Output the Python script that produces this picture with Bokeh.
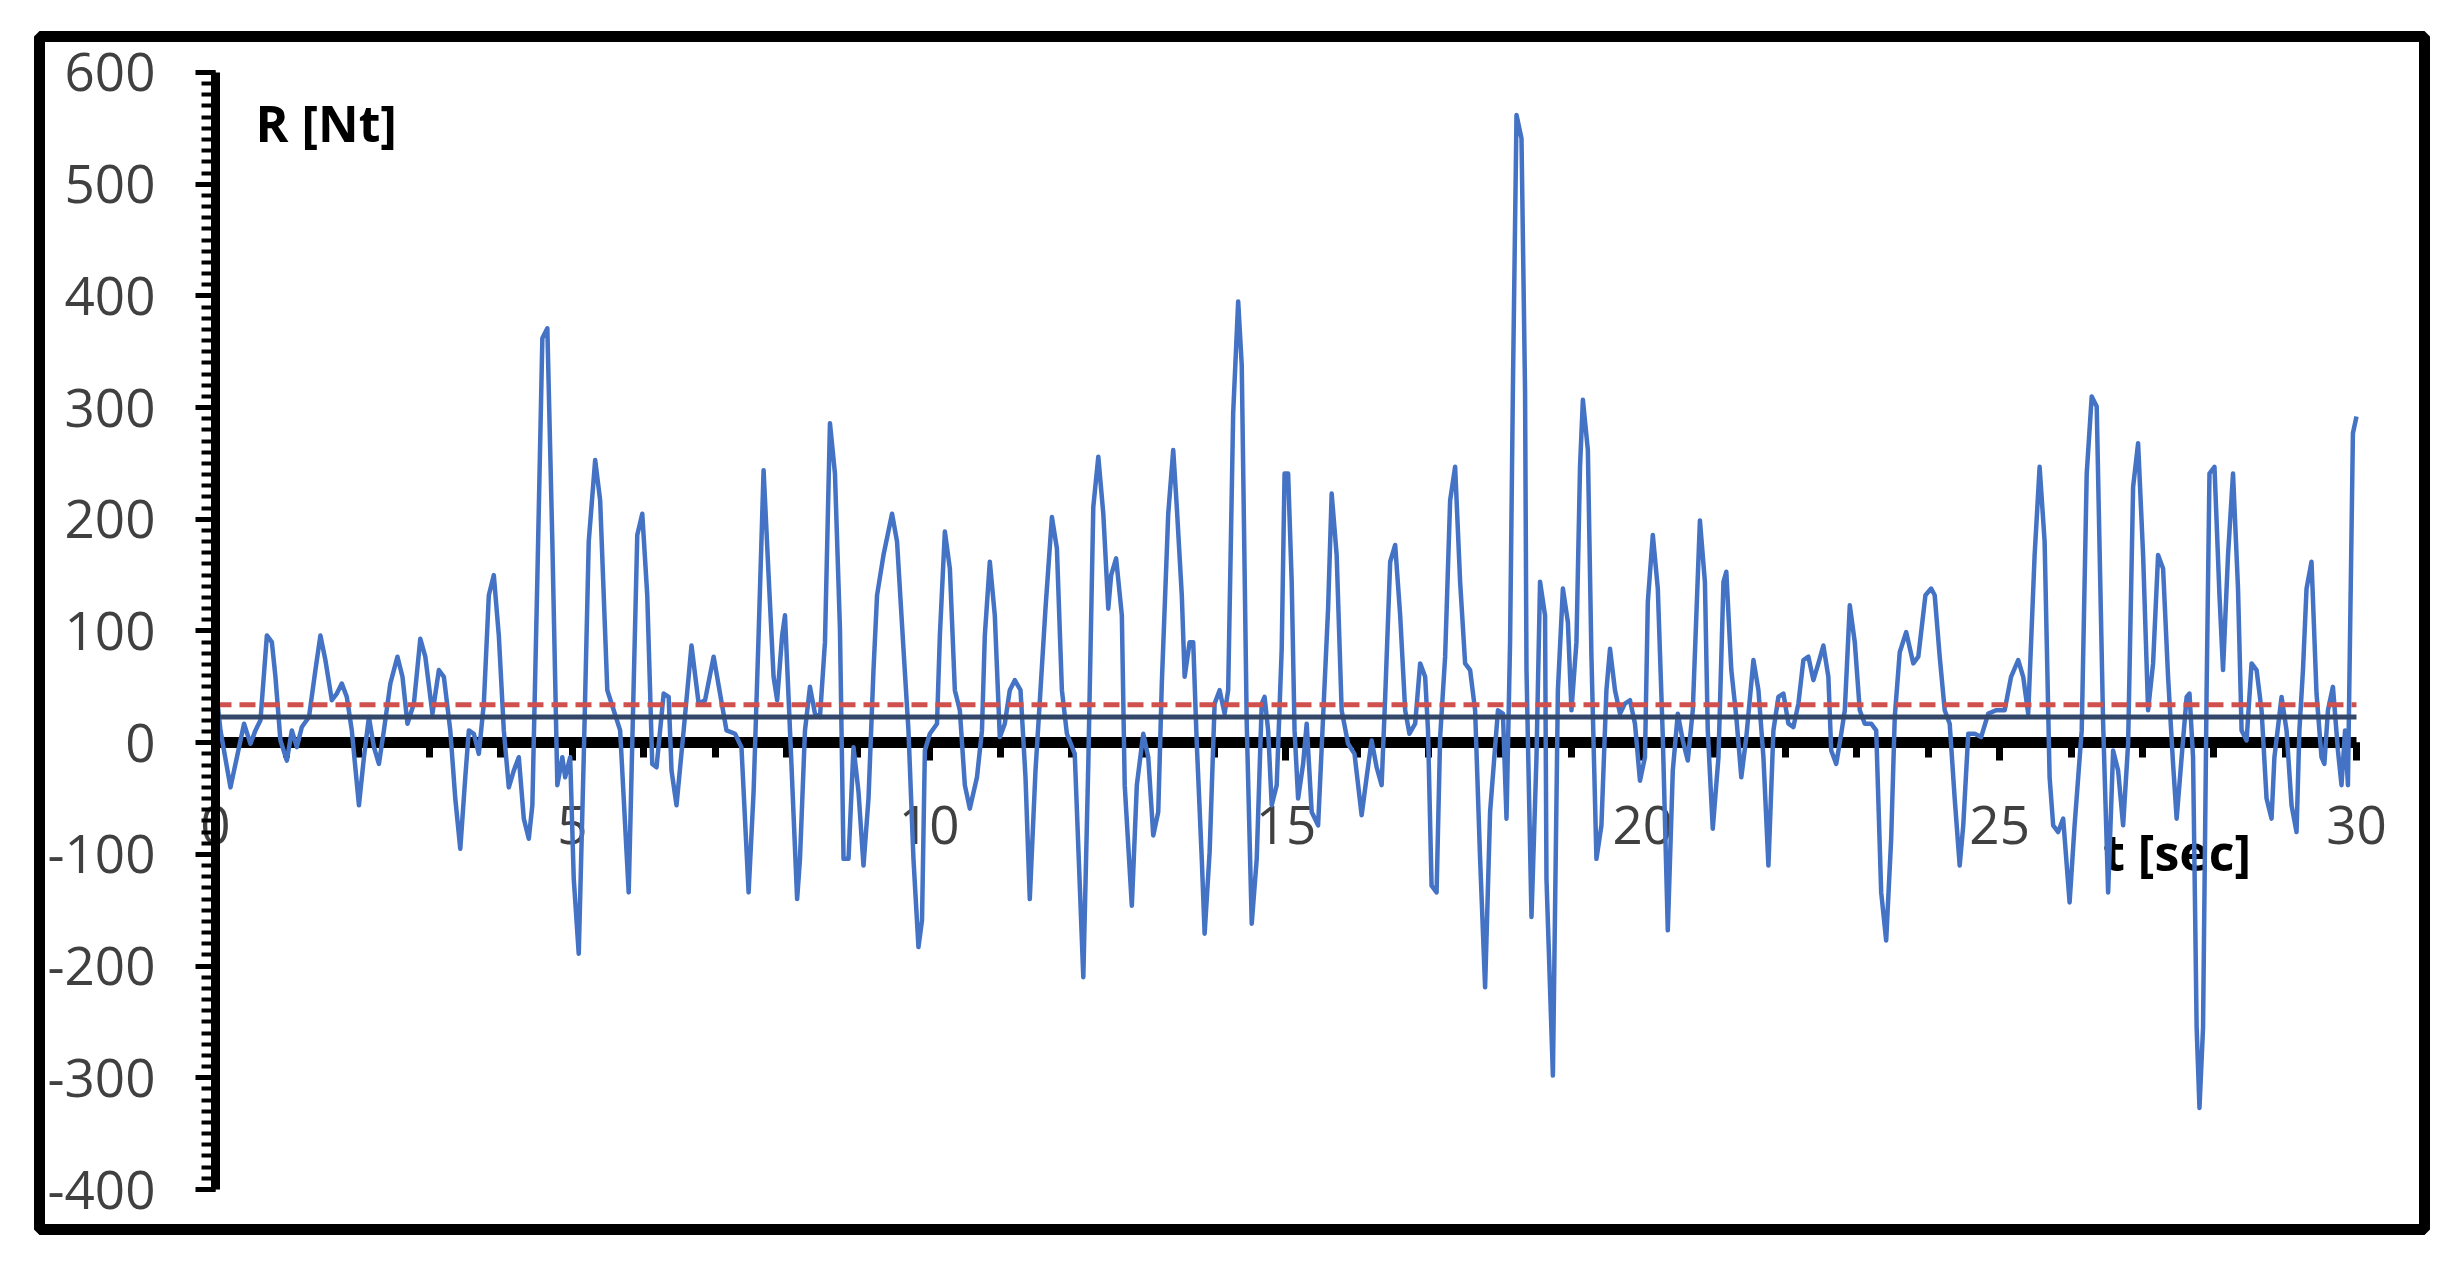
from bokeh.plotting import figure
from bokeh.models import SingleIntervalTicker, Label, Range1d, PrintfTickFormatter
from bokeh.embed import file_html
from bokeh.resources import INLINE

# ---- data ----
t_sec = [
    0.00, 0.07, 0.21, 0.30, 0.40, 0.49, 0.56, 0.63, 0.72, 0.79, 0.84, 0.91, 1.00, 1.07, 1.14, 1.21,
    1.31, 1.40, 1.47, 1.54, 1.63, 1.70, 1.77, 1.84, 1.91, 2.01, 2.08, 2.15, 2.22, 2.29, 2.36, 2.45,
    2.55, 2.62, 2.69, 2.78, 2.87, 2.94, 3.04, 3.13, 3.20, 3.29, 3.36, 3.43, 3.50, 3.55, 3.62, 3.69,
    3.76, 3.83, 3.90, 3.97, 4.04, 4.11, 4.18, 4.25, 4.32, 4.39, 4.44, 4.51, 4.58, 4.65, 4.72, 4.79,
    4.86, 4.90, 4.97, 5.02, 5.09, 5.16, 5.23, 5.32, 5.39, 5.49, 5.58, 5.67, 5.75, 5.79, 5.91, 5.98,
    6.05, 6.12, 6.18, 6.28, 6.35, 6.39, 6.46, 6.56, 6.67, 6.77, 6.86, 6.98, 7.07, 7.16, 7.28, 7.37,
    7.47, 7.54, 7.61, 7.68, 7.75, 7.82, 7.87, 7.94, 7.98, 8.05, 8.15, 8.19, 8.26, 8.33, 8.40, 8.47,
    8.54, 8.61, 8.68, 8.75, 8.80, 8.87, 8.94, 9.01, 9.08, 9.15, 9.22, 9.27, 9.36, 9.48, 9.55, 9.64,
    9.71, 9.78, 9.85, 9.90, 9.94, 10.01, 10.11, 10.15, 10.22, 10.29, 10.36, 10.43, 10.50, 10.57, 10.67, 10.74,
    10.78, 10.85, 10.92, 10.99, 11.06, 11.13, 11.20, 11.28, 11.35, 11.41, 11.49, 11.56, 11.63, 11.72, 11.79, 11.86,
    11.93, 12.04, 12.16, 12.23, 12.30, 12.37, 12.44, 12.51, 12.55, 12.62, 12.70, 12.74, 12.84, 12.91, 13.00, 13.07,
    13.14, 13.21, 13.26, 13.35, 13.42, 13.47, 13.54, 13.58, 13.65, 13.70, 13.75, 13.82, 13.86, 13.93, 14.00, 14.07,
    14.14, 14.19, 14.26, 14.33, 14.38, 14.45, 14.52, 14.59, 14.66, 14.70, 14.75, 14.80, 14.87, 14.94, 14.98, 15.03,
    15.08, 15.12, 15.17, 15.24, 15.29, 15.36, 15.45, 15.52, 15.59, 15.64, 15.71, 15.78, 15.87, 15.96, 16.06, 16.13,
    16.20, 16.27, 16.34, 16.39, 16.46, 16.53, 16.60, 16.67, 16.73, 16.81, 16.88, 16.95, 16.99, 17.04, 17.11, 17.16,
    17.23, 17.30, 17.37, 17.44, 17.51, 17.58, 17.65, 17.72, 17.79, 17.86, 17.97, 18.04, 18.09, 18.14, 18.18, 18.23,
    18.30, 18.35, 18.37, 18.44, 18.51, 18.56, 18.63, 18.65, 18.74, 18.81, 18.88, 18.95, 19.00, 19.07, 19.12, 19.16,
    19.23, 19.28, 19.35, 19.42, 19.49, 19.54, 19.61, 19.68, 19.75, 19.82, 19.89, 19.96, 20.03, 20.07, 20.14, 20.21,
    20.28, 20.35, 20.42, 20.49, 20.56, 20.63, 20.70, 20.80, 20.87, 20.91, 20.98, 21.06, 21.13, 21.17, 21.24, 21.31,
    21.38, 21.45, 21.55, 21.62, 21.69, 21.76, 21.83, 21.90, 21.97, 22.04, 22.11, 22.18, 22.25, 22.32, 22.39, 22.46,
    22.53, 22.60, 22.64, 22.71, 22.78, 22.83, 22.90, 22.97, 23.04, 23.11, 23.20, 23.27, 23.34, 23.41, 23.48, 23.53,
    23.60, 23.69, 23.79, 23.86, 23.96, 24.04, 24.09, 24.16, 24.23, 24.30, 24.37, 24.44, 24.49, 24.56, 24.65, 24.74,
    24.84, 24.95, 25.07, 25.16, 25.26, 25.33, 25.40, 25.49, 25.56, 25.63, 25.70, 25.75, 25.82, 25.89, 25.98, 26.05,
    26.15, 26.22, 26.29, 26.36, 26.40, 26.45, 26.52, 26.59, 26.66, 26.73, 26.80, 26.87, 26.94, 27.01, 27.08, 27.15,
    27.22, 27.29, 27.36, 27.43, 27.48, 27.55, 27.62, 27.66, 27.71, 27.76, 27.80, 27.85, 27.90, 27.94, 28.01, 28.08,
    28.13, 28.20, 28.27, 28.34, 28.39, 28.46, 28.53, 28.60, 28.67, 28.74, 28.81, 28.85, 28.95, 29.02, 29.09, 29.16,
    29.20, 29.25, 29.30, 29.37, 29.44, 29.51, 29.55, 29.60, 29.67, 29.74, 29.79, 29.84, 29.88, 29.95, 30.00,
]
r_nt = [
    53, 11, -40, -13, 17, -1, 11, 20, 96, 90, 59, 2, -16, 11, -4, 14,
    23, 65, 96, 74, 38, 44, 53, 41, 11, -56, -13, 23, -4, -19, 11, 53,
    77, 59, 17, 35, 93, 77, 26, 65, 59, 11, -50, -95, -31, 11, 8, -10,
    35, 132, 150, 96, 11, -40, -25, -13, -68, -86, -56, 147, 362, 371, 180, -38,
    -13, -31, -13, -122, -189, -13, 180, 253, 217, 47, 29, 11, -86, -134, 186, 205,
    132, -19, -22, 44, 41, -25, -56, 11, 87, 35, 38, 77, 44, 11, 8, -4,
    -134, -44, 96, 244, 150, 59, 38, 96, 114, 11, -140, -104, 11, 50, 26, 23,
    90, 286, 241, 102, -104, -104, -4, -44, -110, -50, 65, 132, 168, 205, 180, 84,
    11, -104, -183, -159, -7, 8, 17, 96, 189, 156, 47, 29, -38, -59, -31, 11,
    96, 162, 114, 5, 17, 47, 56, 47, -31, -140, -25, 47, 120, 202, 174, 47,
    8, -10, -210, -19, 211, 256, 205, 120, 150, 165, 114, -38, -146, -38, 8, -13,
    -83, -62, 53, 205, 262, 211, 132, 59, 90, 90, -1, -104, -171, -98, 35, 47,
    26, 47, 295, 395, 338, 17, -162, -104, 35, 41, 11, -56, -38, 84, 241, 241,
    144, 11, -50, -19, 17, -62, -74, 23, 120, 223, 168, 29, -1, -10, -65, -31,
    2, -22, -38, 41, 162, 177, 114, 29, 8, 17, 71, 59, 11, -128, -134, 5,
    77, 217, 247, 144, 71, 65, 29, -104, -219, -62, 29, 26, -68, 90, 320, 562,
    541, 314, 65, -156, -13, 144, 114, -122, -298, 47, 138, 108, 29, 90, 247, 307,
    262, 77, -104, -74, 47, 84, 47, 26, 35, 38, 17, -34, -13, 126, 186, 138,
    5, -168, -25, 26, 2, -16, 29, 199, 144, 11, -77, -13, 144, 153, 65, 23,
    -31, 5, 74, 47, -13, -110, 11, 41, 44, 17, 14, 35, 74, 77, 56, 71,
    87, 59, -7, -19, 8, 29, 123, 90, 29, 17, 17, 11, -134, -177, -86, 23,
    81, 99, 71, 77, 132, 138, 132, 77, 29, 17, -50, -110, -74, 8, 8, 5,
    26, 29, 29, 59, 74, 59, 26, 168, 247, 180, -31, -74, -80, -68, -143, -74,
    11, 241, 310, 301, 174, 17, -134, -7, -25, -74, -1, 229, 268, 168, 29, 71,
    168, 156, 59, -19, -68, -13, 41, 44, -13, -255, -327, -255, 47, 241, 247, 132,
    65, 168, 241, 138, 11, 2, 71, 65, 29, -50, -68, -13, 41, 11, -56, -80,
    11, 65, 138, 162, 44, -13, -19, 29, 50, -7, -38, 11, -38, 277, 292,
]

ref_t = [0, 30]
mean_level = [23, 23]
upper_level = [34, 34]

x_tick_step = 5
y_tick_step = 100
x_bounds = (0, 30)
y_bounds = (-400, 600)

FONT = "Open Sans"

p = figure(
    frame_width=2385, frame_height=1193,
    min_border_left=39, min_border_top=36, min_border_right=12, min_border_bottom=12,
    x_range=Range1d(-2.466, 30.953), y_range=Range1d(-435.8, 632.2),
    output_backend="svg", toolbar_location=None, title=None,
    background_fill_color="white", border_fill_color="white",
)
p.xgrid.visible = False
p.ygrid.visible = False
p.outline_line_color = "black"
p.outline_line_width = 11

# data series
p.line(t_sec, r_nt, line_color="#4472C4", line_width=4.5, line_join="round")
p.line(ref_t, mean_level, line_color="#33486B", line_width=5)
p.line(ref_t, upper_level, line_color="#D0504D", line_width=5, line_dash="16 8")

# x axis crossing at R = 0
xa = p.xaxis[0]
xa.fixed_location = 0
xa.bounds = x_bounds
xa.ticker = SingleIntervalTicker(interval=x_tick_step, num_minor_ticks=5)
xa.formatter = PrintfTickFormatter(format="%d")
xa.axis_line_color = "black"
xa.axis_line_width = 11
xa.major_tick_in = 0
xa.major_tick_out = 18
xa.major_tick_line_width = 7
xa.minor_tick_in = 0
xa.minor_tick_out = 15
xa.minor_tick_line_width = 7
xa.major_label_standoff = 45
xa.major_label_text_font = FONT
xa.major_label_text_font_size = "53px"
xa.major_label_text_color = "#404040"
xa.level = "underlay"

# y axis crossing at t = 0
ya = p.yaxis[0]
ya.fixed_location = 0
ya.bounds = y_bounds
ya.ticker = SingleIntervalTicker(interval=y_tick_step, num_minor_ticks=10)
ya.formatter = PrintfTickFormatter(format="%d")
ya.axis_line_color = "black"
ya.axis_line_width = 9
ya.major_tick_in = 0
ya.major_tick_out = 20
ya.major_tick_line_width = 5
ya.minor_tick_in = 0
ya.minor_tick_out = 14
ya.minor_tick_line_width = 4
ya.major_label_standoff = 40
ya.major_label_text_font = FONT
ya.major_label_text_font_size = "53px"
ya.major_label_text_color = "#404040"

p.add_layout(Label(x=0.56, y=555, text="R [Nt]", text_font=FONT, text_font_style="bold",
                   text_font_size="50px", text_color="black", text_baseline="middle",
                   text_align="left"))
p.add_layout(Label(x=26.45, y=-98, text="t [sec]", text_font=FONT, text_font_style="bold",
                   text_font_size="50px", text_color="black", text_baseline="middle",
                   text_align="left", level="underlay"))

open("out.html", "w").write(file_html(p, INLINE))
